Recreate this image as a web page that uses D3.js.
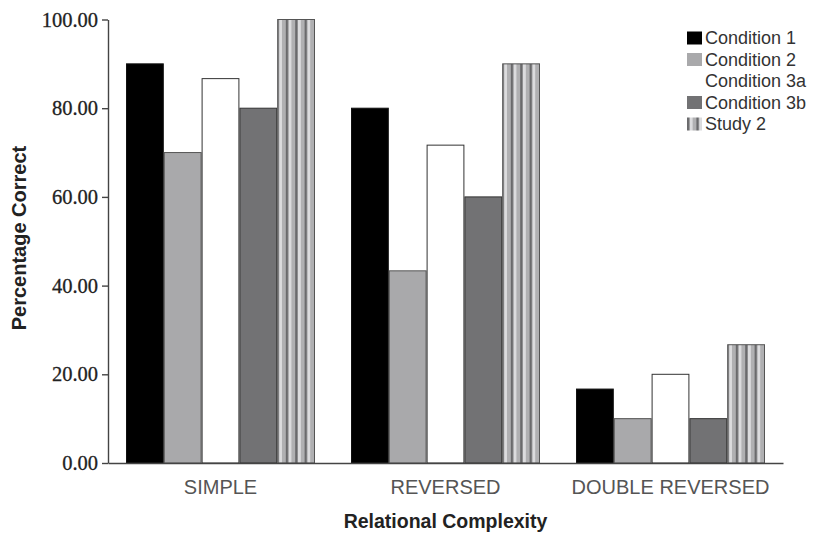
<!DOCTYPE html>
<html>
<head>
<meta charset="utf-8">
<script src="https://cdn.jsdelivr.net/npm/d3@7"></script>
<style>
  html, body { margin: 0; padding: 0; background: #fff; }
  svg { display: block; }
</style>
</head>
<body>
<div id="chart"></div>
<script>
const categories = ["SIMPLE", "REVERSED", "DOUBLE REVERSED"];
const seriesNames = ["Condition 1", "Condition 2", "Condition 3a", "Condition 3b", "Study 2"];
const condition1 = [90, 80, 16.67];
const condition2 = [70, 43.33, 10];
const condition3a = [86.67, 71.67, 20];
const condition3b = [80, 60, 10];
const study2 = [100, 90, 26.67];
const yTicks = [0, 20, 40, 60, 80, 100];

const seriesValues = [condition1, condition2, condition3a, condition3b, study2];

const W = 815, H = 536;
const margin = { left: 108, right: 32, top: 19.5, bottom: 73 };
const svg = d3.select("#chart").append("svg").attr("width", W).attr("height", H);

const defs = svg.append("defs");
const pat = defs.append("pattern").attr("id", "stripes")
  .attr("patternUnits", "userSpaceOnUse").attr("width", 9.4).attr("height", 10);
pat.append("rect").attr("x", 0).attr("y", 0).attr("width", 9.4).attr("height", 10).attr("fill", "#b0b0b2");
pat.append("rect").attr("x", 0).attr("y", 0).attr("width", 2.6).attr("height", 10).attr("fill", "#6a6a6c");
pat.append("rect").attr("x", 2.6).attr("y", 0).attr("width", 3).attr("height", 10).attr("fill", "#dcdcde");

const fills = ["#000000", "#a9a9ab", "#ffffff", "#727274", "url(#stripes)"];
const strokes = ["#111", "#555", "#333", "#333", "#555"];

const x0 = d3.scaleBand().domain(categories)
  .range([margin.left, W - margin.right]).paddingInner(0.16).paddingOuter(0.08);
const x1 = d3.scaleBand().domain(seriesNames).range([0, x0.bandwidth()]).padding(0);
const y = d3.scaleLinear().domain([0, 100]).range([H - margin.bottom, margin.top]);

// bars
categories.forEach((cat, ci) => {
  const g = svg.append("g").attr("transform", `translate(${x0(cat)},0)`);
  seriesNames.forEach((s, si) => {
    const v = seriesValues[si][ci];
    g.append("rect")
      .attr("x", x1(s) + 0.5)
      .attr("y", y(v))
      .attr("width", x1.bandwidth() - 1)
      .attr("height", y(0) - y(v))
      .attr("fill", fills[si])
      .attr("stroke", strokes[si])
      .attr("stroke-width", 1);
  });
});

// y axis
const yAxis = svg.append("g").attr("transform", `translate(${margin.left},0)`)
  .call(d3.axisLeft(y).tickValues(yTicks).tickFormat(d3.format(".2f")).tickSize(6).tickSizeOuter(0).tickPadding(4));
yAxis.select(".domain").attr("stroke", "#444").attr("stroke-width", 1.4);
yAxis.selectAll(".tick line").attr("stroke", "#444").attr("stroke-width", 1.4);
yAxis.selectAll(".tick text")
  .attr("font-family", "'Liberation Serif', 'Times New Roman', serif")
  .attr("font-size", 20.5).attr("fill", "#222")
  .attr("stroke", "#222").attr("stroke-width", 0.3);

// x axis
const xAxis = svg.append("g").attr("transform", `translate(0,${y(0)})`)
  .call(d3.axisBottom(x0).tickSize(0).tickSizeOuter(0).tickPadding(17));
xAxis.select(".domain").attr("stroke", "#444").attr("stroke-width", 1.4);
xAxis.selectAll(".tick text")
  .attr("font-family", "'Liberation Sans', Arial, sans-serif")
  .attr("font-size", 20).attr("fill", "#555");

// axis titles
svg.append("text")
  .attr("x", (margin.left + W - margin.right) / 2).attr("y", 528)
  .attr("text-anchor", "middle")
  .attr("font-family", "'Liberation Sans', Arial, sans-serif")
  .attr("font-weight", "bold").attr("font-size", 19.5).attr("fill", "#222")
  .text("Relational Complexity");

svg.append("text")
  .attr("transform", "translate(26,238) rotate(-90)")
  .attr("text-anchor", "middle")
  .attr("font-family", "'Liberation Sans', Arial, sans-serif")
  .attr("font-weight", "bold").attr("font-size", 20).attr("fill", "#222")
  .text("Percentage Correct");

// legend
const legend = svg.append("g").attr("transform", "translate(687,38)");
seriesNames.forEach((s, i) => {
  const row = legend.append("g").attr("transform", `translate(0,${i * 21.5})`);
  if (i !== 2) {
    row.append("rect").attr("x", 0).attr("y", -6.5).attr("width", 15).attr("height", 13)
      .attr("fill", fills[i]);
  }
  row.append("text").attr("x", 18).attr("y", 0).attr("dy", "0.35em")
    .attr("font-family", "'Liberation Sans', Arial, sans-serif")
    .attr("font-size", 18).attr("fill", "#333")
    .text(s);
});
</script>
</body>
</html>
